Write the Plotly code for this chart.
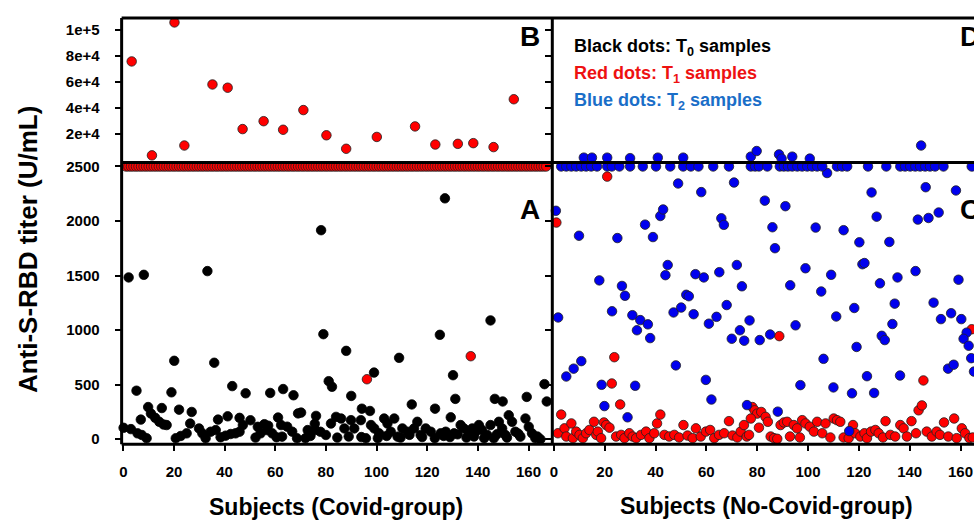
import plotly.graph_objects as go

W, H = 974, 522

# ---------------- data ----------------
# Covid group, T0 (black) - panel A
covid_t0_x = [2.1, 8.1, 33.2, 78.1, 79, 127, 125, 145, 88, 108.9, 99, 81.1, 82.4, 90, 130.2, 131.1, 146.7, 149.8,
              159.3, 166.3, 167.2, 113.9, 123.1, 94.2, 97.4, 129.3,
              5.2, 20.1, 35.9, 19, 43, 48.3, 58, 63.1, 67.2,
              9.8, 15.2, 22, 27, 6.9, 10.9, 12.6, 14.2, 15.9, 26.4, 37.4, 41.2, 45.9, 50.2, 55.7, 57.2, 61.1, 69,
              70.2, 76.1, 75.6, 17.1, 47.2, 53.1, 62.3, 72.8,
              0.1, 3, 5.6, 7.3, 9.2, 20.7, 22.7, 25, 29.9, 31.2, 32.5, 34.5, 36.5, 38.4, 40.4, 42.4, 44.3, 45.9, 52.2,
              54.2, 56.8, 58.8, 60.5, 62.7, 64.7, 66.7, 68.6, 71.9, 73.9, 75.8, 77.8, 80,
              82.0, 84.0, 86.0, 87.3, 89.9, 91.2, 93.8, 95.8, 97.8, 99.1, 101.0, 103.0, 104.3, 105.6, 107.0, 108.3,
              110.2, 112.2, 114.8, 116.1, 117.4, 119.4, 121.4, 125.3, 127.3, 130.6, 133.2, 134.5, 136.5, 137.8, 139.1,
              140.4, 141.7, 143.7, 145, 146.3, 148.3, 149.6, 150.9, 152.2, 153.5, 154.8, 156.8, 158.8, 160.1, 161.4,
              162.7, 164.7,
              84.5, 89, 94, 100.5, 104, 109.5, 113, 118, 123, 126.5, 129, 132, 135.5, 138.5, 142.5, 147.5, 151.5, 156,
              163.5]
covid_t0_y = [1483, 1507, 1541, 1916, 963, 2208, 957, 1089, 810, 746, 611, 532, 481, 397, 587, 370, 370, 346,
              388, 505, 346, 319, 280, 280, 259, 201,
              445, 719, 701, 430, 487, 421, 424, 460, 403,
              295, 286, 271, 250, 180, 235, 196, 160, 135, 144, 180, 210, 196, 174, 138, 124, 199, 237,
              244, 214, 142, 130, 130, 114, 130, 84,
              105, 93, 54, 39, 9, 9, 30, 54, 99, 54, 9, 69, 84, 18, 33, 48, 54, 69, 15,
              54, 84, 54, 18, 24, 115, 69, 9, 9, 30, 84, 69, 39,
              144, 205, 190, 99, 175, 99, 175, 9, 130, 99, 54, 190, 144, 69, 190, 24,
              99, 69, 99, 160, 39, 99, 69, 54, 69, 54, 130, 99, 69, 99, 69,
              130, 84, 39, 130, 9, 160, 99, 39, 220, 160, 69, 24, 190, 114, 54,
              9, 0,
              15, 25, 20, 10, 30, 15, 40, 20, 10, 30, 20, 45, 15, 25, 10, 45, 15, 50,
              25]

# Covid group, T1 (red) above 2500 - panel B
covid_t1_hi_x = [3.3, 11.3, 20.2, 24.1, 35.2, 41.2, 47.1, 55.4, 63.1, 71.1, 80.2, 88, 100.1, 115.2, 123.2, 132.1,
                 138.2, 146.2, 154.2]
covid_t1_hi_y = [75620, 3623, 105510, 11170, 57960, 55470, 23770, 29810, 23250, 38340, 19020, 8680, 17740, 25810,
                 11930, 12450, 12980, 9960, 46640]
# Covid group, T1 (red) at the 2500 cap: every subject
covid_t1_cap_x = list(range(1, 168))
covid_t1_cap_value = 2500
# Covid group, T1 (red) below 2500 - panel A
covid_t1_lo_x = [96.2, 137.2]
covid_t1_lo_y = [550, 761]

# No-Covid group, T1 (red) - panel C
nocovid_t1_x = [1, 21, 2.9, 23.8, 22.8, 26.1, 88.7, 145.4, 164.4,
                1.6, 4.2, 4.9, 6.9, 7.5, 8.8, 10.1, 11.4, 12.7, 14, 15.8, 16.7, 17.3, 18.6, 19.7, 20.6, 21.9,
                24.5, 26.5, 27.8, 29.7, 31, 32.4, 34.3, 36.3, 37.6, 39.5, 40.6, 41.9, 43.5, 45.4, 47.4, 49.3, 51,
                52.6, 54.6, 55.9, 57.8, 59.8, 61.5, 63.1, 65, 67, 68.9, 70.3, 72.2, 73.5, 74.8, 75.9, 76.8, 78.1,
                79, 80, 77.5, 80.7, 81.6, 83.3, 84.2, 85.3, 86.6, 87.9, 89.2, 90.5, 91.8, 92.9, 94.4, 95.7, 96.8,
                97.7, 99, 100.7, 102.3, 103.6, 105.6, 106.9, 108.8, 110.1, 111.4, 112.7, 114, 116, 117.7, 118.6,
                120.6, 122.2, 123.2, 124.8, 126.5, 127.8, 129.5, 130.5, 132.4, 134.3, 136.3, 137.6, 138.9, 140.7,
                142.5, 143.5, 144.8, 146.7, 148.7, 150.6, 151.9, 153.5, 155.2, 157.5, 158.5, 160.5, 161.8, 163.5,
                164.8]
nocovid_t1_y = [1986, 2407, 226, 752, 511, 319, 945, 539, 1008,
                55, 100, 25, 145, 10, 70, 40, 10, 55, 85, 160, 40, 70, 10, 154, 130, 106,
                25, 40, 10, 55, 25, 10, 40, 70, 10, 55, 145, 226, 40, 25, 40, 16, 130,
                34, 10, 100, 25, 70, 85, 10, 40, 55, 166, 34, 16, 70, 130, 25, 40, 295,
                265, 235, 190, 106, 250, 205, 160, 25, 10, 4, 130, 154, 160, 25, 130, 100, 16,
                175, 145, 115, 70, 160, 55, 145, 16, 190, 175, 160, 16, 10, 130, 55,
                25, 55, 10, 70, 85, 55, 16, 166, 40, 25, 130, 100, 25, 166,
                55, 265, 310, 70, 25, 70, 40, 154, 25, 190, 10, 100, 55, 10,
                16]

# No-Covid group, T2 (blue) - panel C
nocovid_t2_x = [0.8, 9.9, 25, 35.9, 39, 41.9, 43, 48.9, 58, 65.9, 66.9, 70.9, 83, 91.1, 86, 87, 103, 114, 120.2,
                125, 127, 132, 146.3, 143.2, 147.4, 151.4, 158.2,
                17.9, 26.8, 28, 44.8, 43.9, 55.7, 59, 65.1, 72, 74, 93, 99, 105.2, 109.1, 121.4, 122.2, 128.3,
                135.2, 142.3, 159.2,
                1.7, 22.9, 30.9, 34, 37, 32.7, 37.9, 47.1, 50.1, 52.1, 53.1, 55, 61, 64, 68, 73.2, 70, 74.9, 77,
                81, 85.1, 95.1, 111.1, 118.2, 134.1, 133.2, 129, 130.2, 119.1, 149.4, 152.3, 156.3, 160.3, 162.4,
                161.2, 163.2, 164.2, 106.1,
                4.9, 7.8, 10.8, 48, 18.8, 32, 59.8, 97, 110, 123.2, 136.2, 155.1, 157.3, 165.3,
                19.9, 29, 62, 76, 88.1, 117.3, 126, 116.2, 165.6, 107.5,
                2.9, 4.9, 6.9, 8.8, 10.8, 12.7, 14.7, 17, 21, 22.8, 25.8, 30, 35, 40.2, 45.8, 50.9, 53.9, 56.9,
                62.7, 68.9, 77.5, 79.2, 80.7, 84, 88.9, 90.5, 92.1, 93.8, 95.8, 97.7, 99.7, 101.6, 103.6, 105.6,
                111.4, 113.4, 115.4, 123.6, 130.8, 136.3, 138.2, 140.2, 142.2, 144.1, 146.1, 148, 150, 153.3,
                164.4]
nocovid_t2_y = [2094, 1865, 1844, 1967, 1853, 2046, 2106, 2344, 2265, 2025, 1965, 2353, 2187, 2136, 1943, 1751,
                1940, 1916, 1805, 2262, 2040, 1808, 2310, 2013, 2028, 2078, 2280,
                1456, 1405, 1315, 1597, 1504, 1513, 1483, 1531, 1597, 1402, 1411, 1567, 1354, 1507, 1604, 1615,
                1429, 1483, 1541, 1462,
                1116, 1173, 1137, 1092, 1053, 999, 927, 1162, 1207, 1324, 1311, 1146, 1059, 1122, 1230, 999, 921,
                903, 1089, 909, 960, 1044, 1125, 1203, 1243, 1056, 948, 909, 846, 1252, 1101, 1155, 1101, 977,
                921, 857, 743, 737,
                575, 647, 716, 677, 499, 490, 544, 496, 475, 578, 584, 647, 683, 620,
                304, 201, 364, 313, 253, 421, 424, 75, 196, 2440,
                2500, 2500, 2500, 2500, 2500, 2500, 2500, 2500, 2500, 2500, 2500, 2500, 2500, 2500, 2500, 2500,
                2500, 2500, 2500, 2500, 2500, 2500, 2500, 2500, 2500, 2500, 2500, 2500, 2500, 2500, 2500, 2500,
                2500, 2500, 2500, 2500, 2500, 2500, 2500, 2500, 2500, 2500, 2500, 2500, 2500, 2500, 2500, 2500,
                2500]
# No-Covid group, T2 (blue) just above the break - panel D
nocovid_t2_hi_x = [11.8, 15, 21, 30, 40.9, 50.9, 77.5, 79.8, 88.6, 89.6, 93.8, 100.7, 144.5]
nocovid_t2_hi_y = [1887, 1887, 1887, 1500, 1887, 1887, 2642, 6944, 4377, 1132, 2642, 1132, 11170]

x_ticks = [0, 20, 40, 60, 80, 100, 120, 140, 160]
y_low_ticks = [0, 500, 1000, 1500, 2000, 2500]
y_high_ticks = [20000, 40000, 60000, 80000, 100000]
y_high_labels = ["2e+4", "4e+4", "6e+4", "8e+4", "1e+5"]

# ---------------- styling ----------------
RED = "#ff0000"
BLUE = "#0000ee"
FONT = "Liberation Sans, Arial, sans-serif"


def fx(p):
    return p / W


def fy(p):
    return 1 - p / H


def dots(x, y, color, xa, ya, outline="#202020"):
    return go.Scatter(x=x, y=y, mode="markers", xaxis=xa, yaxis=ya, cliponaxis=False, showlegend=False,
                      hoverinfo="skip",
                      marker=dict(size=9.5, color=color, line=dict(color=outline, width=0.8)))


fig = go.Figure()
fig.add_trace(dots(covid_t0_x, covid_t0_y, "black", "x", "y", outline="black"))
fig.add_trace(dots(covid_t1_cap_x, [covid_t1_cap_value] * len(covid_t1_cap_x), RED, "x", "y"))
fig.add_trace(dots(covid_t1_lo_x, covid_t1_lo_y, RED, "x", "y"))
fig.add_trace(dots(covid_t1_hi_x, covid_t1_hi_y, RED, "x", "y2"))
fig.add_trace(dots(nocovid_t1_x, nocovid_t1_y, RED, "x2", "y3"))
fig.add_trace(dots(nocovid_t2_x, nocovid_t2_y, BLUE, "x2", "y3"))
fig.add_trace(dots(nocovid_t2_hi_x, nocovid_t2_hi_y, BLUE, "x2", "y4"))

tickfont = dict(family=FONT, size=15, color="black", weight="bold")
common = dict(showgrid=False, zeroline=False, showline=False, ticks="outside", ticklen=6, tickwidth=2,
              tickcolor="black")

lo_dom = [fy(446), fy(160)]
hi_dom = [fy(160), fy(13.3)]
lo_rng = [-45.1, 2536]
hi_rng = [-1886, 108830]

fig.update_layout(
    width=W, height=H, margin=dict(l=0, r=0, t=0, b=0),
    paper_bgcolor="white", plot_bgcolor="white",
    xaxis=dict(domain=[fx(119), fx(551)], range=[-0.67, 169.4], anchor="y", tickvals=x_ticks,
               tickfont=tickfont, ticklabelstandoff=8, **common),
    xaxis2=dict(domain=[fx(551), 1], range=[-0.6, 165.3], anchor="y3", tickvals=x_ticks,
                tickfont=tickfont, ticklabelstandoff=8, **common),
    yaxis=dict(domain=lo_dom, range=lo_rng, anchor="x", tickvals=y_low_ticks, tickfont=tickfont,
               ticklabelstandoff=12, **common),
    yaxis2=dict(domain=hi_dom, range=hi_rng, anchor="x", tickvals=y_high_ticks, ticktext=y_high_labels,
                tickfont=tickfont, ticklabelstandoff=12, **common),
    yaxis3=dict(domain=lo_dom, range=lo_rng, anchor="x2", tickvals=y_low_ticks, showticklabels=False, **common),
    yaxis4=dict(domain=hi_dom, range=hi_rng, anchor="x2", tickvals=y_high_ticks, showticklabels=False, **common),
)

# frame lines
lines = [
    (119, 13.3, 119, 446, 3),
    (119, 13.3, 974, 13.3, 3),
    (119, 446, 974, 446, 3),
    (551, 13.3, 551, 446, 3),
    (119, 160, 974, 160, 3),
]
for x0, y0, x1, y1, w in lines:
    fig.add_shape(type="line", xref="paper", yref="paper", x0=fx(x0), y0=fy(y0), x1=fx(x1), y1=fy(y1),
                  line=dict(color="black", width=w), layer="above")


def note(text, x, y, size, color="black", xanchor="center", angle=0):
    fig.add_annotation(text=text, xref="paper", yref="paper", x=fx(x), y=fy(y), xanchor=xanchor,
                       yanchor="middle", showarrow=False, textangle=angle,
                       font=dict(family=FONT, size=size, color=color, weight="bold"))


note("Anti-S-RBD titer (U/mL)", 25, 248, 26, angle=-90)
note("Subjects (Covid-group)", 334, 510, 23)
note("Subjects (No-Covid-group)", 766, 509, 23)
note("B", 529, 32, 28)
note("A", 529, 208, 28)
note("D", 970, 32, 28)
note("C", 970, 208, 28)
note("Black dots: T<sub>0</sub> samples", 571, 43, 18, xanchor="left")
note("Red dots: T<sub>1</sub> samples", 571, 71, 18, color="#ee1111", xanchor="left")
note("Blue dots: T<sub>2</sub> samples", 571, 98, 18, color="#1a6ec8", xanchor="left")

fig.write_html(
    "out.html",
    config={"displayModeBar": False},
    post_script="document.body.style.margin='0';document.body.style.overflow='hidden';",
)
